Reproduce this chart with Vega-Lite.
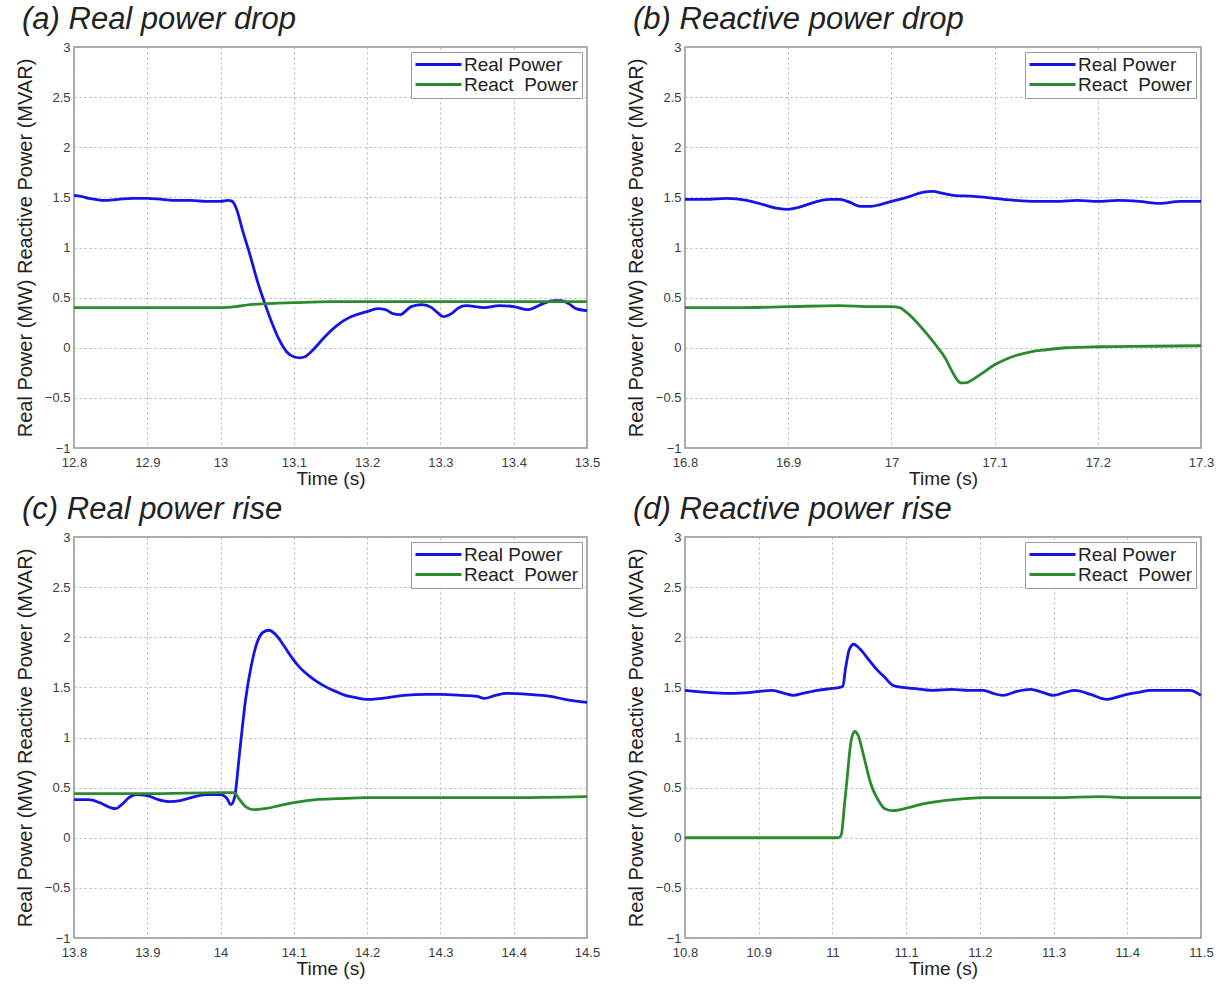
{
  "$schema": "https://vega.github.io/schema/vega-lite/v6.json",
  "background": "white",
  "padding": {"left": 14, "top": 3, "right": 5, "bottom": 5},
  "datasets": {
    "a": [
      {"t":12.80,"s":"Real Power","v":1.52},{"t":12.81,"s":"Real Power","v":1.51},{"t":12.82,"s":"Real Power","v":1.49},{"t":12.83,"s":"Real Power","v":1.48},{"t":12.84,"s":"Real Power","v":1.47},{"t":12.86,"s":"Real Power","v":1.48},{"t":12.88,"s":"Real Power","v":1.49},{"t":12.90,"s":"Real Power","v":1.49},{"t":12.92,"s":"Real Power","v":1.48},{"t":12.94,"s":"Real Power","v":1.47},{"t":12.96,"s":"Real Power","v":1.47},{"t":12.98,"s":"Real Power","v":1.46},{"t":13.00,"s":"Real Power","v":1.46},{"t":13.01,"s":"Real Power","v":1.47},{"t":13.016,"s":"Real Power","v":1.46},{"t":13.022,"s":"Real Power","v":1.38},{"t":13.03,"s":"Real Power","v":1.17},{"t":13.04,"s":"Real Power","v":0.93},{"t":13.05,"s":"Real Power","v":0.67},{"t":13.06,"s":"Real Power","v":0.45},{"t":13.07,"s":"Real Power","v":0.25},{"t":13.08,"s":"Real Power","v":0.08},{"t":13.09,"s":"Real Power","v":-0.04},{"t":13.10,"s":"Real Power","v":-0.09},{"t":13.108,"s":"Real Power","v":-0.10},{"t":13.115,"s":"Real Power","v":-0.09},{"t":13.125,"s":"Real Power","v":-0.03},{"t":13.135,"s":"Real Power","v":0.05},{"t":13.145,"s":"Real Power","v":0.13},{"t":13.157,"s":"Real Power","v":0.21},{"t":13.168,"s":"Real Power","v":0.27},{"t":13.178,"s":"Real Power","v":0.31},{"t":13.19,"s":"Real Power","v":0.34},{"t":13.20,"s":"Real Power","v":0.36},{"t":13.214,"s":"Real Power","v":0.39},{"t":13.225,"s":"Real Power","v":0.38},{"t":13.235,"s":"Real Power","v":0.34},{"t":13.245,"s":"Real Power","v":0.33},{"t":13.26,"s":"Real Power","v":0.41},{"t":13.275,"s":"Real Power","v":0.43},{"t":13.288,"s":"Real Power","v":0.40},{"t":13.296,"s":"Real Power","v":0.35},{"t":13.304,"s":"Real Power","v":0.31},{"t":13.315,"s":"Real Power","v":0.34},{"t":13.325,"s":"Real Power","v":0.40},{"t":13.335,"s":"Real Power","v":0.42},{"t":13.36,"s":"Real Power","v":0.40},{"t":13.38,"s":"Real Power","v":0.42},{"t":13.40,"s":"Real Power","v":0.41},{"t":13.42,"s":"Real Power","v":0.38},{"t":13.44,"s":"Real Power","v":0.44},{"t":13.455,"s":"Real Power","v":0.47},{"t":13.465,"s":"Real Power","v":0.47},{"t":13.475,"s":"Real Power","v":0.44},{"t":13.485,"s":"Real Power","v":0.39},{"t":13.50,"s":"Real Power","v":0.37},
      {"t":12.80,"s":"React\u00a0 Power","v":0.40},{"t":12.90,"s":"React\u00a0 Power","v":0.40},{"t":13.00,"s":"React\u00a0 Power","v":0.40},{"t":13.02,"s":"React\u00a0 Power","v":0.41},{"t":13.04,"s":"React\u00a0 Power","v":0.43},{"t":13.06,"s":"React\u00a0 Power","v":0.44},{"t":13.10,"s":"React\u00a0 Power","v":0.45},{"t":13.15,"s":"React\u00a0 Power","v":0.46},{"t":13.20,"s":"React\u00a0 Power","v":0.46},{"t":13.30,"s":"React\u00a0 Power","v":0.46},{"t":13.40,"s":"React\u00a0 Power","v":0.46},{"t":13.50,"s":"React\u00a0 Power","v":0.46}
    ],
    "b": [
      {"t":16.80,"s":"Real Power","v":1.48},{"t":16.82,"s":"Real Power","v":1.48},{"t":16.84,"s":"Real Power","v":1.49},{"t":16.86,"s":"Real Power","v":1.47},{"t":16.875,"s":"Real Power","v":1.43},{"t":16.89,"s":"Real Power","v":1.39},{"t":16.90,"s":"Real Power","v":1.38},{"t":16.91,"s":"Real Power","v":1.40},{"t":16.925,"s":"Real Power","v":1.45},{"t":16.94,"s":"Real Power","v":1.48},{"t":16.95,"s":"Real Power","v":1.48},{"t":16.96,"s":"Real Power","v":1.45},{"t":16.97,"s":"Real Power","v":1.41},{"t":16.98,"s":"Real Power","v":1.41},{"t":16.99,"s":"Real Power","v":1.43},{"t":17.00,"s":"Real Power","v":1.46},{"t":17.015,"s":"Real Power","v":1.50},{"t":17.03,"s":"Real Power","v":1.55},{"t":17.04,"s":"Real Power","v":1.56},{"t":17.05,"s":"Real Power","v":1.54},{"t":17.06,"s":"Real Power","v":1.52},{"t":17.08,"s":"Real Power","v":1.51},{"t":17.10,"s":"Real Power","v":1.49},{"t":17.12,"s":"Real Power","v":1.47},{"t":17.14,"s":"Real Power","v":1.46},{"t":17.16,"s":"Real Power","v":1.46},{"t":17.18,"s":"Real Power","v":1.47},{"t":17.20,"s":"Real Power","v":1.46},{"t":17.22,"s":"Real Power","v":1.47},{"t":17.24,"s":"Real Power","v":1.46},{"t":17.26,"s":"Real Power","v":1.44},{"t":17.28,"s":"Real Power","v":1.46},{"t":17.30,"s":"Real Power","v":1.46},
      {"t":16.80,"s":"React\u00a0 Power","v":0.40},{"t":16.85,"s":"React\u00a0 Power","v":0.40},{"t":16.90,"s":"React\u00a0 Power","v":0.41},{"t":16.95,"s":"React\u00a0 Power","v":0.42},{"t":16.98,"s":"React\u00a0 Power","v":0.41},{"t":17.00,"s":"React\u00a0 Power","v":0.41},{"t":17.008,"s":"React\u00a0 Power","v":0.40},{"t":17.015,"s":"React\u00a0 Power","v":0.35},{"t":17.025,"s":"React\u00a0 Power","v":0.25},{"t":17.035,"s":"React\u00a0 Power","v":0.13},{"t":17.045,"s":"React\u00a0 Power","v":0.0},{"t":17.052,"s":"React\u00a0 Power","v":-0.10},{"t":17.058,"s":"React\u00a0 Power","v":-0.22},{"t":17.063,"s":"React\u00a0 Power","v":-0.31},{"t":17.067,"s":"React\u00a0 Power","v":-0.35},{"t":17.072,"s":"React\u00a0 Power","v":-0.35},{"t":17.08,"s":"React\u00a0 Power","v":-0.31},{"t":17.09,"s":"React\u00a0 Power","v":-0.24},{"t":17.10,"s":"React\u00a0 Power","v":-0.17},{"t":17.11,"s":"React\u00a0 Power","v":-0.12},{"t":17.12,"s":"React\u00a0 Power","v":-0.08},{"t":17.135,"s":"React\u00a0 Power","v":-0.04},{"t":17.15,"s":"React\u00a0 Power","v":-0.02},{"t":17.17,"s":"React\u00a0 Power","v":0.0},{"t":17.20,"s":"React\u00a0 Power","v":0.01},{"t":17.25,"s":"React\u00a0 Power","v":0.015},{"t":17.30,"s":"React\u00a0 Power","v":0.02}
    ],
    "c": [
      {"t":13.80,"s":"Real Power","v":0.38},{"t":13.82,"s":"Real Power","v":0.38},{"t":13.835,"s":"Real Power","v":0.35},{"t":13.85,"s":"Real Power","v":0.30},{"t":13.857,"s":"Real Power","v":0.29},{"t":13.865,"s":"Real Power","v":0.33},{"t":13.875,"s":"Real Power","v":0.40},{"t":13.885,"s":"Real Power","v":0.43},{"t":13.90,"s":"Real Power","v":0.42},{"t":13.915,"s":"Real Power","v":0.38},{"t":13.93,"s":"Real Power","v":0.36},{"t":13.945,"s":"Real Power","v":0.37},{"t":13.96,"s":"Real Power","v":0.40},{"t":13.98,"s":"Real Power","v":0.43},{"t":14.00,"s":"Real Power","v":0.43},{"t":14.008,"s":"Real Power","v":0.40},{"t":14.014,"s":"Real Power","v":0.33},{"t":14.019,"s":"Real Power","v":0.40},{"t":14.026,"s":"Real Power","v":0.85},{"t":14.034,"s":"Real Power","v":1.37},{"t":14.042,"s":"Real Power","v":1.72},{"t":14.05,"s":"Real Power","v":1.95},{"t":14.058,"s":"Real Power","v":2.05},{"t":14.066,"s":"Real Power","v":2.07},{"t":14.076,"s":"Real Power","v":2.02},{"t":14.086,"s":"Real Power","v":1.92},{"t":14.097,"s":"Real Power","v":1.80},{"t":14.108,"s":"Real Power","v":1.70},{"t":14.12,"s":"Real Power","v":1.62},{"t":14.131,"s":"Real Power","v":1.56},{"t":14.145,"s":"Real Power","v":1.50},{"t":14.157,"s":"Real Power","v":1.46},{"t":14.17,"s":"Real Power","v":1.42},{"t":14.183,"s":"Real Power","v":1.40},{"t":14.20,"s":"Real Power","v":1.38},{"t":14.22,"s":"Real Power","v":1.39},{"t":14.25,"s":"Real Power","v":1.42},{"t":14.28,"s":"Real Power","v":1.43},{"t":14.30,"s":"Real Power","v":1.43},{"t":14.33,"s":"Real Power","v":1.42},{"t":14.35,"s":"Real Power","v":1.41},{"t":14.36,"s":"Real Power","v":1.39},{"t":14.375,"s":"Real Power","v":1.42},{"t":14.39,"s":"Real Power","v":1.44},{"t":14.42,"s":"Real Power","v":1.43},{"t":14.45,"s":"Real Power","v":1.41},{"t":14.47,"s":"Real Power","v":1.38},{"t":14.50,"s":"Real Power","v":1.35},
      {"t":13.80,"s":"React\u00a0 Power","v":0.44},{"t":13.90,"s":"React\u00a0 Power","v":0.44},{"t":14.00,"s":"React\u00a0 Power","v":0.45},{"t":14.018,"s":"React\u00a0 Power","v":0.45},{"t":14.026,"s":"React\u00a0 Power","v":0.38},{"t":14.034,"s":"React\u00a0 Power","v":0.31},{"t":14.045,"s":"React\u00a0 Power","v":0.28},{"t":14.06,"s":"React\u00a0 Power","v":0.29},{"t":14.08,"s":"React\u00a0 Power","v":0.32},{"t":14.10,"s":"React\u00a0 Power","v":0.35},{"t":14.13,"s":"React\u00a0 Power","v":0.38},{"t":14.16,"s":"React\u00a0 Power","v":0.39},{"t":14.20,"s":"React\u00a0 Power","v":0.40},{"t":14.30,"s":"React\u00a0 Power","v":0.40},{"t":14.40,"s":"React\u00a0 Power","v":0.40},{"t":14.50,"s":"React\u00a0 Power","v":0.41}
    ],
    "d": [
      {"t":10.80,"s":"Real Power","v":1.47},{"t":10.83,"s":"Real Power","v":1.45},{"t":10.86,"s":"Real Power","v":1.44},{"t":10.89,"s":"Real Power","v":1.45},{"t":10.918,"s":"Real Power","v":1.47},{"t":10.935,"s":"Real Power","v":1.44},{"t":10.947,"s":"Real Power","v":1.42},{"t":10.96,"s":"Real Power","v":1.44},{"t":10.98,"s":"Real Power","v":1.47},{"t":11.00,"s":"Real Power","v":1.49},{"t":11.01,"s":"Real Power","v":1.50},{"t":11.014,"s":"Real Power","v":1.51},{"t":11.018,"s":"Real Power","v":1.70},{"t":11.023,"s":"Real Power","v":1.88},{"t":11.029,"s":"Real Power","v":1.93},{"t":11.035,"s":"Real Power","v":1.90},{"t":11.05,"s":"Real Power","v":1.77},{"t":11.06,"s":"Real Power","v":1.68},{"t":11.071,"s":"Real Power","v":1.60},{"t":11.082,"s":"Real Power","v":1.52},{"t":11.095,"s":"Real Power","v":1.50},{"t":11.109,"s":"Real Power","v":1.49},{"t":11.135,"s":"Real Power","v":1.47},{"t":11.162,"s":"Real Power","v":1.48},{"t":11.185,"s":"Real Power","v":1.47},{"t":11.205,"s":"Real Power","v":1.47},{"t":11.218,"s":"Real Power","v":1.44},{"t":11.231,"s":"Real Power","v":1.42},{"t":11.25,"s":"Real Power","v":1.46},{"t":11.269,"s":"Real Power","v":1.48},{"t":11.285,"s":"Real Power","v":1.45},{"t":11.30,"s":"Real Power","v":1.42},{"t":11.315,"s":"Real Power","v":1.45},{"t":11.329,"s":"Real Power","v":1.47},{"t":11.35,"s":"Real Power","v":1.43},{"t":11.372,"s":"Real Power","v":1.38},{"t":11.385,"s":"Real Power","v":1.40},{"t":11.40,"s":"Real Power","v":1.43},{"t":11.415,"s":"Real Power","v":1.45},{"t":11.431,"s":"Real Power","v":1.47},{"t":11.463,"s":"Real Power","v":1.47},{"t":11.485,"s":"Real Power","v":1.47},{"t":11.50,"s":"Real Power","v":1.42},
      {"t":10.80,"s":"React\u00a0 Power","v":0.0},{"t":10.90,"s":"React\u00a0 Power","v":0.0},{"t":11.00,"s":"React\u00a0 Power","v":0.0},{"t":11.008,"s":"React\u00a0 Power","v":0.0},{"t":11.012,"s":"React\u00a0 Power","v":0.03},{"t":11.016,"s":"React\u00a0 Power","v":0.30},{"t":11.02,"s":"React\u00a0 Power","v":0.60},{"t":11.025,"s":"React\u00a0 Power","v":0.95},{"t":11.03,"s":"React\u00a0 Power","v":1.06},{"t":11.035,"s":"React\u00a0 Power","v":1.02},{"t":11.04,"s":"React\u00a0 Power","v":0.89},{"t":11.045,"s":"React\u00a0 Power","v":0.74},{"t":11.05,"s":"React\u00a0 Power","v":0.59},{"t":11.055,"s":"React\u00a0 Power","v":0.48},{"t":11.061,"s":"React\u00a0 Power","v":0.39},{"t":11.071,"s":"React\u00a0 Power","v":0.29},{"t":11.082,"s":"React\u00a0 Power","v":0.27},{"t":11.092,"s":"React\u00a0 Power","v":0.28},{"t":11.103,"s":"React\u00a0 Power","v":0.30},{"t":11.124,"s":"React\u00a0 Power","v":0.34},{"t":11.151,"s":"React\u00a0 Power","v":0.37},{"t":11.18,"s":"React\u00a0 Power","v":0.39},{"t":11.205,"s":"React\u00a0 Power","v":0.40},{"t":11.30,"s":"React\u00a0 Power","v":0.40},{"t":11.364,"s":"React\u00a0 Power","v":0.41},{"t":11.40,"s":"React\u00a0 Power","v":0.40},{"t":11.50,"s":"React\u00a0 Power","v":0.40}
    ]
  },
  "columns": 2,
  "spacing": {"row": 89, "column": 98},
  "bounds": "flush",
  "resolve": {"legend": {"color": "independent"}, "scale": {"x": "independent"}},
  "concat": [
    {
      "width": 513, "height": 401,
      "title": "(a) Real power drop",
      "data": {"name": "a"},
      "mark": {"type": "line", "strokeWidth": 2.8, "interpolate": "monotone"},
      "encoding": {
        "x": {"field": "t", "type": "quantitative", "scale": {"domain": [12.8, 13.5], "nice": false, "zero": false}, "axis": {"values": [12.8, 12.9, 13.0, 13.1, 13.2, 13.3, 13.4, 13.5], "format": "~g", "title": "Time (s)"}},
        "y": {"field": "v", "type": "quantitative", "scale": {"domain": [-1, 3], "nice": false}, "axis": {"values": [-1, -0.5, 0, 0.5, 1, 1.5, 2, 2.5, 3], "format": "~g", "title": "Real Power (MW) Reactive Power (MVAR)"}},
        "color": {"field": "s", "type": "nominal", "scale": {"domain": ["Real Power", "React\u00a0 Power"], "range": ["#1414e6", "#2b8a2b"]}, "legend": {"title": null}}
      }
    },
    {
      "width": 516, "height": 401,
      "title": "(b) Reactive power drop",
      "data": {"name": "b"},
      "mark": {"type": "line", "strokeWidth": 2.8, "interpolate": "monotone"},
      "encoding": {
        "x": {"field": "t", "type": "quantitative", "scale": {"domain": [16.8, 17.3], "nice": false, "zero": false}, "axis": {"values": [16.8, 16.9, 17.0, 17.1, 17.2, 17.3], "format": "~g", "title": "Time (s)"}},
        "y": {"field": "v", "type": "quantitative", "scale": {"domain": [-1, 3], "nice": false}, "axis": {"values": [-1, -0.5, 0, 0.5, 1, 1.5, 2, 2.5, 3], "format": "~g", "title": "Real Power (MW) Reactive Power (MVAR)"}},
        "color": {"field": "s", "type": "nominal", "scale": {"domain": ["Real Power", "React\u00a0 Power"], "range": ["#1414e6", "#2b8a2b"]}, "legend": {"title": null}}
      }
    },
    {
      "width": 513, "height": 401,
      "title": "(c) Real power rise",
      "data": {"name": "c"},
      "mark": {"type": "line", "strokeWidth": 2.8, "interpolate": "monotone"},
      "encoding": {
        "x": {"field": "t", "type": "quantitative", "scale": {"domain": [13.8, 14.5], "nice": false, "zero": false}, "axis": {"values": [13.8, 13.9, 14.0, 14.1, 14.2, 14.3, 14.4, 14.5], "format": "~g", "title": "Time (s)"}},
        "y": {"field": "v", "type": "quantitative", "scale": {"domain": [-1, 3], "nice": false}, "axis": {"values": [-1, -0.5, 0, 0.5, 1, 1.5, 2, 2.5, 3], "format": "~g", "title": "Real Power (MW) Reactive Power (MVAR)"}},
        "color": {"field": "s", "type": "nominal", "scale": {"domain": ["Real Power", "React\u00a0 Power"], "range": ["#1414e6", "#2b8a2b"]}, "legend": {"title": null}}
      }
    },
    {
      "width": 516, "height": 401,
      "title": "(d) Reactive power rise",
      "data": {"name": "d"},
      "mark": {"type": "line", "strokeWidth": 2.8, "interpolate": "monotone"},
      "encoding": {
        "x": {"field": "t", "type": "quantitative", "scale": {"domain": [10.8, 11.5], "nice": false, "zero": false}, "axis": {"values": [10.8, 10.9, 11.0, 11.1, 11.2, 11.3, 11.4, 11.5], "format": "~g", "title": "Time (s)"}},
        "y": {"field": "v", "type": "quantitative", "scale": {"domain": [-1, 3], "nice": false}, "axis": {"values": [-1, -0.5, 0, 0.5, 1, 1.5, 2, 2.5, 3], "format": "~g", "title": "Real Power (MW) Reactive Power (MVAR)"}},
        "color": {"field": "s", "type": "nominal", "scale": {"domain": ["Real Power", "React\u00a0 Power"], "range": ["#1414e6", "#2b8a2b"]}, "legend": {"title": null}}
      }
    }
  ],
  "config": {
    "font": "Liberation Sans",
    "view": {"stroke": "#8f8f8f", "strokeWidth": 1.5},
    "axis": {
      "grid": true, "gridColor": "#b5b5b5", "gridDash": [2, 3], "gridWidth": 1,
      "domain": false, "ticks": false, "labelFlush": false,
      "labelFontSize": 13, "labelColor": "#3a3a3a", "labelPadding": 4,
      "titleFontWeight": "normal", "titleColor": "#222222"
    },
    "axisX": {"titlePadding": 0, "titleFontSize": 19, "labelPadding": 8},
    "axisY": {"titlePadding": 9, "titleFontSize": 20},
    "title": {"anchor": "start", "frame": "group", "fontSize": 31, "fontStyle": "italic", "fontWeight": "normal", "color": "#222222", "dx": -52, "offset": 5},
    "legend": {
      "orient": "top-right", "offset": 5,
      "fillColor": "white", "strokeColor": "#9a9a9a", "padding": 3,
      "symbolType": "stroke", "symbolSize": 2116, "symbolStrokeWidth": 3,
      "labelFontSize": 19, "labelColor": "#222222", "labelOffset": 1, "rowPadding": 0, "clipHeight": 19
    }
  }
}
